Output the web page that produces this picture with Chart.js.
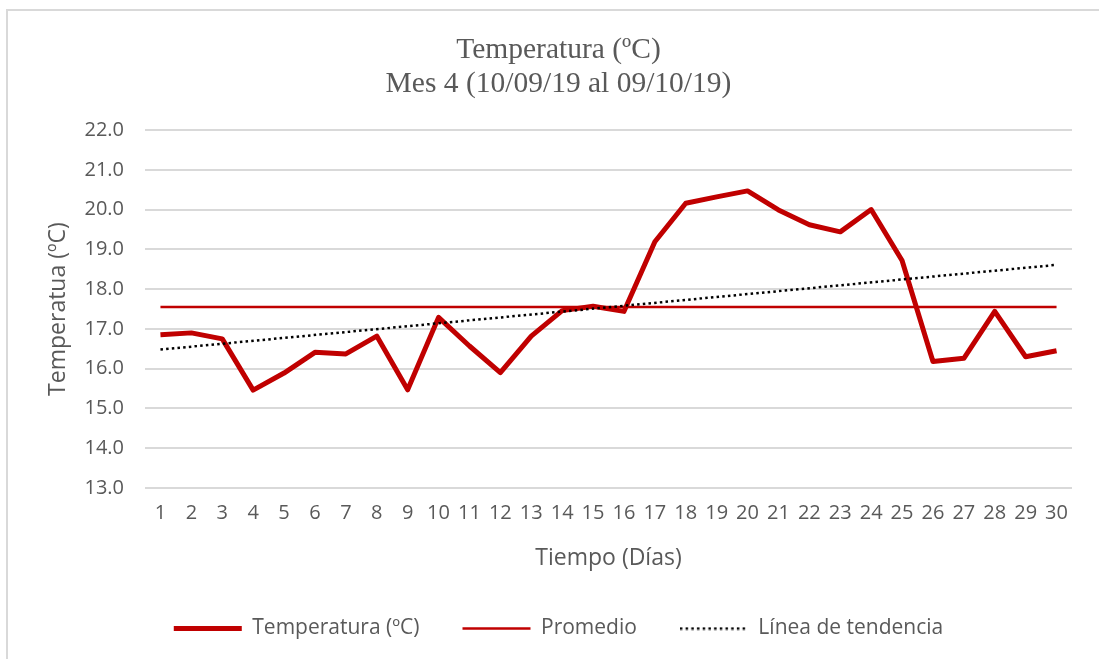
<!DOCTYPE html>
<html>
<head>
<meta charset="utf-8">
<script src="https://cdn.jsdelivr.net/npm/chart.js@4"></script>
<style>
  html, body { margin: 0; padding: 0; background: #ffffff; }
  body { width: 1099px; height: 659px; position: relative; overflow: hidden; }
  #frame { position: absolute; left: 6px; top: 9px; width: 1200px; height: 800px; border: 2px solid #d9d9d9; box-sizing: border-box; }
  #wrap { position: absolute; left: 0; top: 0; width: 1099px; height: 659px; }
</style>
</head>
<body>
<div id="frame"></div>
<div id="wrap"><canvas id="c" width="1099" height="659"></canvas></div>
<script>
const days = ["1","2","3","4","5","6","7","8","9","10","11","12","13","14","15","16","17","18","19","20","21","22","23","24","25","26","27","28","29","30"];
const temperatura = [16.85,16.90,16.75,15.46,15.89,16.41,16.37,16.82,15.47,17.29,16.57,15.90,16.82,17.46,17.57,17.44,19.19,20.16,20.32,20.47,19.99,19.62,19.44,20.00,18.72,16.18,16.26,17.44,16.30,16.45];
const promedio = 17.55;
const tendenciaInicio = 16.48;
const tendenciaFin = 18.61;
const titleLines = ["Temperatura (ºC)", "Mes 4 (10/09/19 al 09/10/19)"];

const endpoints = (a, b) => days.map((d, i) => i === 0 ? a : (i === days.length - 1 ? b : null));

const grey = '#595959';
const red = '#C00000';
const sansFont = "'Open Sans', 'Noto Sans', sans-serif";

// dotted swatch for the trend line legend entry
const dotSwatch = document.createElement('canvas');
dotSwatch.width = 68; dotSwatch.height = 4;
(function () {
  const g = dotSwatch.getContext('2d');
  g.strokeStyle = '#000000';
  g.lineWidth = 2.5;
  g.setLineDash([2.5, 3.2]);
  g.beginPath(); g.moveTo(0, 2); g.lineTo(68, 2); g.stroke();
})();

new Chart(document.getElementById('c'), {
  type: 'line',
  data: {
    labels: days,
    datasets: [
      {
        label: 'Temperatura (ºC)',
        data: temperatura,
        borderColor: red,
        backgroundColor: red,
        borderWidth: 5,
        pointRadius: 0,
        pointStyle: 'line',
        borderJoinStyle: 'round',
        tension: 0,
        order: 1
      },
      {
        label: 'Promedio',
        data: endpoints(promedio, promedio),
        borderColor: red,
        backgroundColor: red,
        borderWidth: 2.5,
        pointRadius: 0,
        pointStyle: 'line',
        spanGaps: true,
        order: 2
      },
      {
        label: 'Línea de tendencia',
        data: endpoints(tendenciaInicio, tendenciaFin),
        borderColor: '#000000',
        backgroundColor: '#000000',
        borderWidth: 2.5,
        borderDash: [2.5, 3.2],
        pointRadius: 0,
        pointStyle: 'line',
        spanGaps: true,
        order: 0
      }
    ]
  },
  options: {
    responsive: false,
    animation: false,
    devicePixelRatio: 1,
    layout: { padding: { left: 45, right: 27, top: 33, bottom: 10 } },
    plugins: {
      title: {
        display: true,
        text: titleLines,
        color: grey,
        font: { family: "'Liberation Serif', 'Times New Roman', serif", size: 29.5, weight: 'normal', lineHeight: 1.153 },
        padding: { top: 0, bottom: 29 }
      },
      legend: {
        position: 'bottom',
        labels: {
          color: grey,
          font: { family: sansFont, size: 21 },
          usePointStyle: true,
          pointStyleWidth: 68,
          boxWidth: 68,
          boxHeight: 12,
          padding: 43,
          sort: (a, b) => a.datasetIndex - b.datasetIndex,
          generateLabels: (chart) => {
            const items = Chart.defaults.plugins.legend.labels.generateLabels(chart);
            items.forEach((it) => { if (it.datasetIndex === 2) it.pointStyle = dotSwatch; });
            return items;
          }
        }
      },
      tooltip: { enabled: false }
    },
    scales: {
      x: {
        offset: true,
        grid: { display: false, drawTicks: false },
        border: { display: false },
        ticks: { color: grey, font: { family: sansFont, size: 20 }, padding: 13, maxRotation: 0, autoSkip: false },
        title: { display: true, text: 'Tiempo (Días)', color: grey, font: { family: sansFont, size: 23 }, padding: { top: 0, bottom: 3 } },
        afterFit: (s) => { s.height = 87; }
      },
      y: {
        min: 13,
        max: 22,
        ticks: { stepSize: 1, color: grey, font: { family: sansFont, size: 20 }, padding: 21, callback: (v) => Number(v).toFixed(1) },
        grid: { color: '#d9d9d9', lineWidth: 2, drawTicks: false },
        border: { display: false },
        title: { display: true, text: 'Temperatua (ºC)', color: grey, font: { family: sansFont, size: 23 }, padding: { top: 0, bottom: 0 } },
        afterFit: (s) => { s.width = 100; }
      }
    }
  }
});
</script>
</body>
</html>
